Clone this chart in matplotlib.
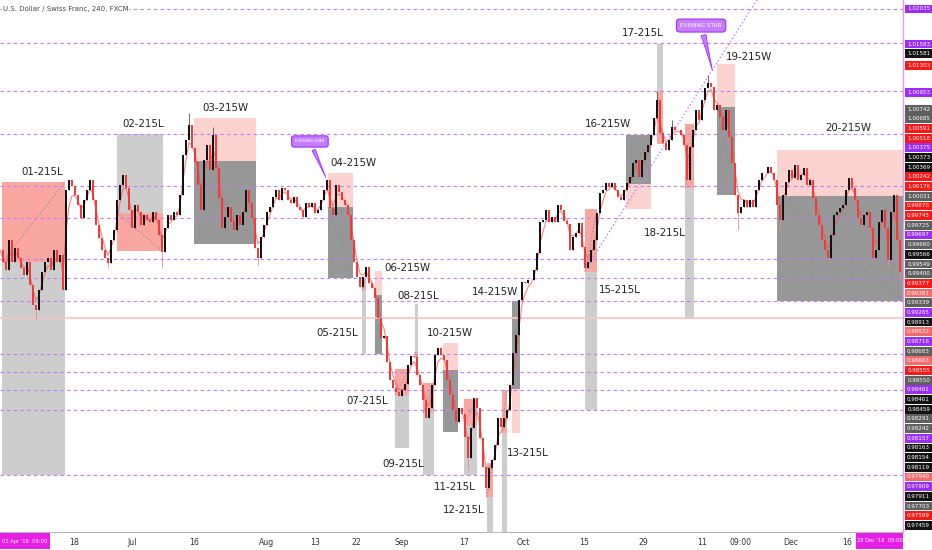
import matplotlib
matplotlib.use("Agg")
import matplotlib.pyplot as plt
from matplotlib.patches import Rectangle
import numpy as np
import pandas as pd

# ---------------- data ----------------
title = "U.S. Dollar / Swiss Franc, 240, FXCM"

closes = [
    0.99870, 0.99762, 0.99690, 0.99960, 0.99762, 0.99888, 0.99798, 0.99708, 0.99645, 0.99762,
    0.99555, 0.99375, 0.99330, 0.99510, 0.99672, 0.99762, 0.99798, 0.99690, 0.99870, 0.99762,
    0.99825, 0.99510, 1.00410, 1.00500, 1.00446, 1.00365, 1.00275, 1.00158, 1.00320, 1.00410,
    1.00500, 1.00320, 1.00095, 0.99978, 0.99870, 0.99798, 0.99753, 0.99960, 1.00050, 1.00320,
    1.00455, 1.00545, 1.00428, 1.00230, 1.00068, 1.00275, 1.00212, 1.00095, 1.00185, 1.00140,
    1.00122, 1.00212, 1.00140, 1.00005, 0.99852, 1.00068, 1.00185, 1.00140, 1.00212, 1.00185,
    1.00365, 1.00725, 1.00860, 1.00995, 1.00788, 1.00662, 1.00455, 1.00230, 1.00680, 1.00815,
    1.00590, 1.00905, 1.00608, 1.00338, 1.00068, 1.00167, 1.00257, 1.00122, 1.00050, 1.00185,
    1.00095, 1.00212, 1.00410, 1.00293, 1.00158, 0.99888, 0.99798, 0.99987, 1.00095, 1.00212,
    1.00257, 1.00347, 1.00410, 1.00320, 1.00428, 1.00410, 1.00320, 1.00293, 1.00347, 1.00257,
    1.00230, 1.00167, 1.00293, 1.00257, 1.00293, 1.00203, 1.00230, 1.00320, 1.00410, 1.00500,
    1.00248, 1.00185, 1.00455, 1.00392, 1.00320, 1.00275, 1.00185, 0.99960, 0.99762, 0.99627,
    0.99537, 0.99627, 0.99717, 0.99573, 0.99528, 0.99438, 0.99258, 0.99078, 0.99096, 0.98862,
    0.98700, 0.98628, 0.98592, 0.98556, 0.98610, 0.98664, 0.98835, 0.98916, 0.98907, 0.98745,
    0.98655, 0.98520, 0.98358, 0.98448, 0.98655, 0.98925, 0.98988, 0.98925, 0.98880, 0.98700,
    0.98565, 0.98430, 0.98322, 0.98448, 0.98394, 0.98187, 0.97998, 0.98268, 0.98538, 0.98448,
    0.98178, 0.97917, 0.97728, 0.97908, 0.97980, 0.98115, 0.98358, 0.98277, 0.98358, 0.98430,
    0.98655, 0.98943, 0.99105, 0.99420, 0.99582, 0.99573, 0.99600, 0.99600, 0.99690, 0.99843,
    1.00122, 1.00140, 1.00230, 1.00122, 1.00167, 1.00122, 1.00275, 1.00230, 1.00131, 1.00104,
    0.99870, 0.99987, 1.00023, 1.00113, 0.99897, 0.99708, 0.99762, 0.99870, 0.99960, 1.00203,
    1.00383, 1.00410, 1.00473, 1.00437, 1.00473, 1.00410, 1.00347, 1.00320, 1.00410, 1.00473,
    1.00527, 1.00653, 1.00680, 1.00527, 1.00680, 1.00752, 1.00815, 1.00905, 1.01058, 1.01220,
    1.00923, 1.00833, 1.00770, 1.00860, 1.00977, 1.00950, 1.00950, 1.00905, 1.00815, 1.00500,
    1.00797, 1.00950, 1.01130, 1.01040, 1.01220, 1.01328, 1.01373, 1.01337, 1.01130, 1.01175,
    1.01067, 1.00950, 1.01130, 1.00887, 1.00653, 1.00365, 1.00203, 1.00257, 1.00320, 1.00257,
    1.00320, 1.00257, 1.00410, 1.00500, 1.00563, 1.00563, 1.00617, 1.00563, 1.00500, 1.00275,
    1.00140, 1.00365, 1.00482, 1.00590, 1.00518, 1.00635, 1.00500, 1.00545, 1.00608, 1.00455,
    1.00500, 1.00338, 1.00185, 1.00095, 0.99960, 0.99870, 0.99798, 1.00005, 1.00185, 1.00212,
    1.00248, 1.00275, 1.00410, 1.00518, 1.00428, 1.00320, 1.00158, 1.00095, 1.00185, 1.00212,
    1.00068, 0.99798, 0.99870, 1.00122, 1.00230, 1.00068, 0.99780, 1.00212, 1.00365, 0.99960,
    0.99672,
]

# notable wick extremes (candle index, price)
wick_high_idx = [63, 219, 236, 71, 224]
wick_high_val = [1.01103, 1.01292, 1.01445, 1.00980, 1.01040]
wick_low_idx = [12, 36, 54, 86, 156, 162, 246, 260, 296, 300]
wick_low_val = [0.99240, 0.99708, 0.99708, 0.99735, 0.97890, 0.97647, 1.00050, 1.00068, 0.99708, 0.99600]

# horizontal levels
levels = [1.02039, 1.01733, 1.01301, 1.00914, 1.00446, 1.00158, 0.99789, 0.99618,
          0.99411, 0.98934, 0.98772, 0.98610, 0.98430, 0.97845]
pink_level = 0.99258

# position tools
pos_names = ["01-215L", "02-215L", "03-215W", "04-215W", "05-215L", "06-215W", "07-215L",
             "08-215L", "09-215L", "10-215W", "11-215L", "12-215L", "13-215L", "14-215W",
             "15-215L", "16-215W", "17-215L", "18-215L", "19-215W", "20-215W"]
pos_side = ["short", "long", "short", "short", "short", "short", "short", "long", "short", "short",
            "short", "short", "short", "long", "short", "long", "long", "short", "short", "short"]
pos_t0 = [0.7, 39.0, 64.7, 109.3, 120.7, 125.0, 131.7, 138.3, 141.0, 147.7,
          154.7, 162.3, 167.3, 170.7, 195.0, 208.7, 219.0, 228.3, 239.0, 259.0]
pos_t1 = [21.7, 54.3, 85.3, 117.7, 122.0, 127.3, 136.3, 139.3, 144.7, 152.7,
          159.0, 164.3, 169.0, 173.3, 199.0, 217.0, 221.0, 231.3, 245.0, 301.0]
pos_top = [1.00482, 1.00914, 1.01058, 1.00563, 0.99618, 0.99681, 0.98799, 0.99384, 0.98673, 0.99033,
           0.98529, 0.97953, 0.98610, 0.99411, 1.00239, 1.00905, 1.01724, 1.01004, 1.01544, 1.00770]
pos_entry = [0.99762, 1.00203, 1.00671, 1.00257, 0.99510, 0.99465, 0.98565, 0.98952, 0.98403, 0.98790,
             0.98295, 0.97647, 0.98223, 0.98619, 0.99672, 1.00464, 1.01292, 1.00428, 1.01157, 1.00356]
pos_bottom = [0.97845, 0.99861, 0.99924, 0.99618, 0.98934, 0.98934, 0.98088, 0.98898, 0.97845, 0.98232,
              0.97845, 0.97260, 0.97260, 0.98223, 0.98430, 1.00239, 1.00824, 0.99249, 1.00365, 0.99411]
label_t = [14.0, 47.7, 75.0, 117.7, 112.3, 135.7, 122.3, 139.3, 134.3, 150.0,
           151.7, 154.7, 176.0, 165.0, 206.7, 202.7, 214.3, 221.7, 249.7, 282.7]
label_p = [1.00572, 1.01004, 1.01148, 1.00653, 0.99123, 0.99708, 0.98511, 0.99456, 0.97944, 0.99123,
           0.97737, 0.97530, 0.98043, 0.99492, 0.99510, 1.01004, 1.01823, 1.00023, 1.01607, 1.00968]

# trend line and callouts
trend_t = [195.0, 252.3]
trend_p = [0.99690, 1.02120]
star_text = ["EVENING STAR", "EVENING STAR"]
star_box_t = [103.3, 233.7]
star_box_p = [1.00847, 1.01890]
star_tip_t = [109.0, 237.7]
star_tip_p = [1.00500, 1.01463]

# x axis
xtick_pos = [24.7, 44.0, 64.7, 88.7, 105.0, 118.7, 134.0, 154.7, 174.3, 194.7, 214.3, 234.0, 247.0, 263.7, 282.3]
xtick_lab = ["18", "Jul", "16", "Aug", "13", "22", "Sep", "17", "Oct", "15", "29", "11", "09:00", "Dec", "16"]
range_start = "03 Apr '18  09:00"
range_end = "28 Dec '18  05:00"

# right price scale labels
axis_vals = ["1.02035", "1.01583", "1.01581", "1.01303", "1.00953", "1.00742", "1.00685", "1.00591",
             "1.00518", "1.00375", "1.00373", "1.00369", "1.00242", "1.00176", "1.00031", "0.99870",
             "0.99745", "0.99725", "0.99697", "0.99660", "0.99566", "0.99549", "0.99400", "0.99377",
             "0.99381", "0.99339", "0.99265", "0.98913", "0.98832", "0.98716", "0.98683", "0.98663",
             "0.98555", "0.98550", "0.98461", "0.98461", "0.98459", "0.98291", "0.98242", "0.98157",
             "0.98163", "0.98154", "0.98119", "0.97940", "0.97909", "0.97911", "0.97703", "0.97599",
             "0.97459"]
axis_kind = ["p", "p", "k", "r", "p", "g", "g", "r",
             "r", "p", "k", "k", "r", "r", "g", "r",
             "r", "g", "p", "g", "k", "g", "g", "r",
             "s", "g", "p", "k", "s", "p", "g", "s",
             "r", "g", "p", "k", "k", "g", "g", "p",
             "k", "k", "k", "s", "p", "k", "g", "r",
             "k"]

# ---------------- style ----------------
W, H = 932, 550
PLOT_W, PLOT_H, AXIS_H = 903, 532, 18
kind_color = {"p": "#9a2ef5", "k": "#131313", "r": "#f51a1a", "g": "#5f5f5f", "s": "#f26a6a"}
purple_line = "#c078f4"

fig = plt.figure(figsize=(W / 100, H / 100), dpi=100)
fig.patch.set_facecolor("white")
ax = fig.add_axes([0, AXIS_H / H, PLOT_W / W, PLOT_H / H])
ax.set_facecolor("white")
ax.set_xlim(0, 301)
ax.set_ylim(0.97332, 1.02120)
for s in ["top", "left"]:
    ax.spines[s].set_visible(False)
ax.spines["bottom"].set_color("#b8b8b8")
ax.spines["bottom"].set_linewidth(0.8)
ax.spines["right"].set_color("#e39be8")
ax.spines["right"].set_linewidth(1.0)
ax.set_yticks([])
ax.set_xticks(xtick_pos)
ax.set_xticklabels(xtick_lab, fontsize=5.6, color="#333333")
ax.tick_params(axis="x", length=0, pad=4)

# position boxes
for i, name in enumerate(pos_names):
    win = name.endswith("W")
    stop_col = ("#f44336", 0.24) if win else ("#f44336", 0.47)
    targ_col = ("#4d4d4d", 0.58) if win else ("#8a8a8a", 0.42)
    t0, t1 = pos_t0[i], pos_t1[i]
    if pos_side[i] == "short":
        up_c, lo_c = stop_col, targ_col
    else:
        up_c, lo_c = targ_col, stop_col
    ax.add_patch(Rectangle((t0, pos_entry[i]), t1 - t0, pos_top[i] - pos_entry[i],
                           facecolor=up_c[0], alpha=up_c[1], linewidth=0, zorder=1))
    ax.add_patch(Rectangle((t0, pos_bottom[i]), t1 - t0, pos_entry[i] - pos_bottom[i],
                           facecolor=lo_c[0], alpha=lo_c[1], linewidth=0, zorder=1))
    # dotted path entry -> exit
    if pos_side[i] == "short":
        exit_p = pos_bottom[i] if win else pos_top[i]
    else:
        exit_p = pos_top[i] if win else pos_bottom[i]
    ax.plot([t0, t1], [pos_entry[i], exit_p], color="#8c8c8c", lw=0.7,
            ls=(0, (1.5, 2)), zorder=2)
    ax.text(label_t[i], label_p[i], name, fontsize=7.4, color="#222222",
            ha="center", va="center", zorder=9)

# horizontal levels
ax.axhline(pink_level, color="#f6c4c4", lw=1.2, zorder=2)
for lv in levels:
    ax.axhline(lv, color=purple_line, lw=0.8, ls=(0, (3, 3)), zorder=3)

# trend line
ax.plot(trend_t, trend_p, color=purple_line, lw=0.9, ls=(0, (1.2, 1.8)), zorder=4)

# candles
c = np.array(closes)
n = len(c)
idx = np.arange(n)
o = np.concatenate([[c[0]], c[:-1]])
hi = np.maximum(o, c)
lo = np.minimum(o, c)
for i, v in zip(wick_high_idx, wick_high_val):
    hi[i] = max(hi[i], v)
for i, v in zip(wick_low_idx, wick_low_val):
    lo[i] = min(lo[i], v)
up = c >= o
body_col = np.where(up, "#111111", "#ee3b3b")
wick_col = np.where(up, "#555555", "#f08a8a")
ema = pd.Series(c).ewm(span=3).mean().values
ax.plot(idx, ema, color="#ff4a4a", lw=0.8, alpha=0.7, zorder=5)
ax.vlines(idx, lo, hi, colors=wick_col, lw=0.6, zorder=6)
body_lo = np.minimum(o, c)
body_h = np.maximum(np.abs(c - o), 0.00004)
ax.bar(idx, body_h, bottom=body_lo, width=0.72, color=body_col, linewidth=0, zorder=7)

# evening star callouts
for j in range(len(star_text)):
    fs = 2.9 if j == 0 else 4.1
    pad = 0.9 if j == 0 else 0.7
    ax.annotate(star_text[j], xy=(star_tip_t[j], star_tip_p[j]),
                xytext=(star_box_t[j], star_box_p[j]), ha="center", va="center",
                fontsize=fs, color="white", zorder=10,
                bbox=dict(boxstyle="round,pad=%.2f,rounding_size=0.6" % pad,
                          fc="#c77dff", ec="#9b30ff", lw=0.8),
                arrowprops=dict(arrowstyle="wedge,tail_width=0.9,shrink_factor=0.4",
                                fc="#c77dff", ec="#9b30ff", lw=0.6))

# header
fig.text(3 / W, 1 - 9 / H, title, fontsize=5.0, color="#444444", ha="left", va="center",
         bbox=dict(facecolor="white", edgecolor="none", pad=0.6), zorder=20)

# right price-scale labels (stacked like the platform does)
px_per_unit = 35 / (1.02035 - 1.01583)
prev = -1e9
for v, k in zip(axis_vals, axis_kind):
    y = 9 + (1.02035 - float(v)) * px_per_unit
    y = max(y, prev + 9.68)
    prev = y
    fig.add_artist(Rectangle((905 / W, 1 - (y + 4.4) / H), 27 / W, 8.8 / H,
                             transform=fig.transFigure, facecolor=kind_color[k],
                             edgecolor="none", zorder=20))
    fig.text(918.5 / W, 1 - y / H, v, fontsize=4.1, color="white",
             ha="center", va="center", zorder=21)

# range boxes on the time axis
for x0, x1, txt in [(0, 50, range_start), (856, 903, range_end)]:
    fig.add_artist(Rectangle((x0 / W, 1 - 549 / H), (x1 - x0) / W, 16 / H,
                             transform=fig.transFigure, facecolor="#e61ee6",
                             edgecolor="none", zorder=20))
    fig.text((x0 + x1) / 2 / W, 1 - 541 / H, txt, fontsize=3.7, color="white",
             ha="center", va="center", zorder=21)

fig.savefig("out.png", dpi=100, facecolor="white")
